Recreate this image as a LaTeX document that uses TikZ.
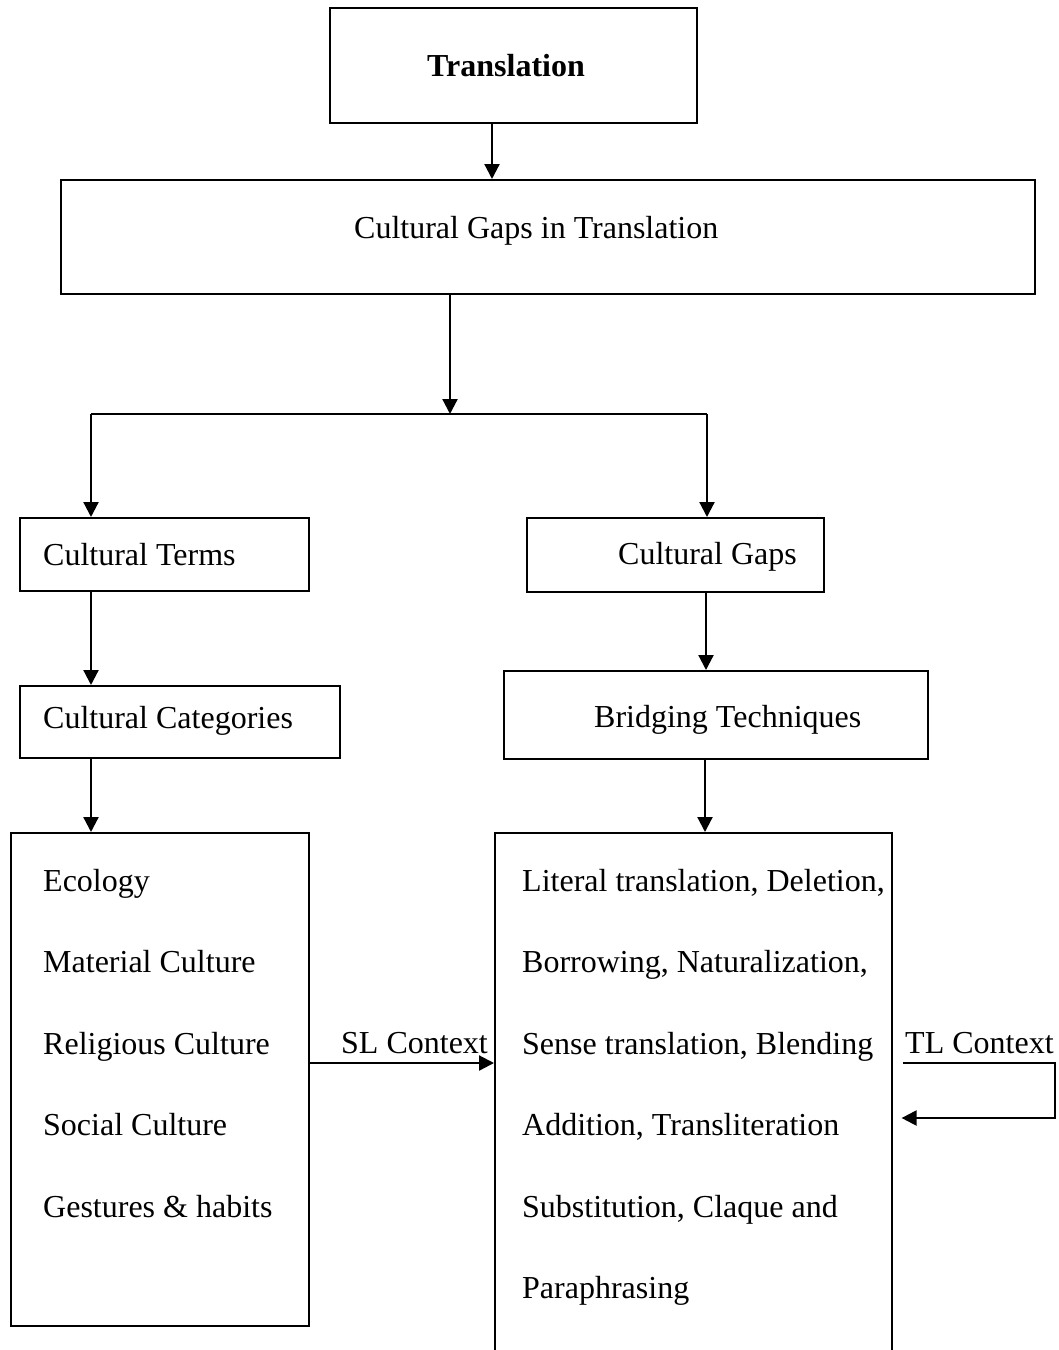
\documentclass[tikz,border=0pt]{standalone}
\usepackage{fontspec}
\setmainfont{Liberation Serif}
\usetikzlibrary{arrows.meta,calc}

\begin{document}
\begin{tikzpicture}[x=1pt,y=-1pt,
  box/.style={draw,line width=1.6pt,anchor=north west,inner sep=0pt},
  txt/.style={anchor=base west,inner sep=0pt,font=\fontsize{32}{38}\selectfont},
  title/.style={txt,font=\fontsize{32}{38}\selectfont\bfseries},
  arr/.style={line width=2.2pt,-{Triangle[length=15pt,width=15pt]}}
]
  \useasboundingbox (0,0) rectangle (1059,1350);
  \clip (0,0) rectangle (1059,1350);

  % boxes
  \node[box,minimum width=367pt,minimum height=115pt] (trans)   at (329,7)   {};
  \node[box,minimum width=974pt,minimum height=114pt] (gaps)    at (60,179)  {};
  \node[box,minimum width=289pt,minimum height=73pt]  (terms)   at (19,517)  {};
  \node[box,minimum width=297pt,minimum height=74pt]  (cgaps)   at (526,517) {};
  \node[box,minimum width=320pt,minimum height=72pt]  (cats)    at (19,685)  {};
  \node[box,minimum width=424pt,minimum height=88pt]  (bridge)  at (503,670) {};
  \node[box,minimum width=298pt,minimum height=493pt] (catlist) at (10,832)  {};
  \node[box,minimum width=397pt,minimum height=540pt] (techlist) at (494,832) {};

  % texts
  \node[title] (transtxt)  at (427,76)  {Translation};
  \node[txt]   (gapstxt)   at (354,238) {Cultural Gaps in Translation};
  \node[txt]   (termstxt)  at (43,565)  {Cultural Terms};
  \node[txt]   (cgapstxt)  at (618,564) {Cultural Gaps};
  \node[txt]   (catstxt)   at (43,728)  {Cultural Categories};
  \node[txt]   (bridgetxt) at (594,727) {Bridging Techniques};
  \foreach \entry [count=\i] in {Ecology,Material Culture,Religious Culture,Social Culture,Gestures \& habits}
    \node[txt] (cat\i) at (43,{809.5+81.5*\i}) {\entry};
  \foreach \entry [count=\i] in {{Literal translation, Deletion,},{Borrowing, Naturalization,},{Sense translation, Blending},{Addition, Transliteration},{Substitution, Claque and},{Paraphrasing}}
    \node[txt] (tech\i) at (522,{809.5+81.5*\i}) {\entry};
  \node[txt] (sltxt) at (341,1053) {SL Context};
  \node[txt] (tltxt) at (905,1053) {TL Context};

  % connectors
  \coordinate (split)  at (450,414);
  \coordinate (splitl) at (91,414);
  \coordinate (splitr) at (707,414);
  \coordinate (slrow)  at (0,1063);
  \coordinate (tlrow)  at (0,1118);
  \coordinate (tlturn) at (1055,1063);
  \draw[arr] (trans.south -| 492,0) -- (gaps.north -| 492,0);
  \draw[arr] (gaps.south -| split) -- (split);
  \draw[line width=2.2pt] (splitl) -- (splitr);
  \draw[arr] (splitl) -- (splitl |- terms.north);
  \draw[arr] (splitr) -- (splitr |- cgaps.north);
  \draw[arr] (terms.south -| 91,0) -- (cats.north -| 91,0);
  \draw[arr] (cgaps.south -| 706,0) -- (bridge.north -| 706,0);
  \draw[arr] (cats.south -| 91,0) -- (catlist.north -| 91,0);
  \draw[arr] (bridge.south -| 705,0) -- (techlist.north -| 705,0);
  \draw[arr] (catlist.east |- slrow) -- (techlist.west |- slrow);
  \draw[arr] ($(techlist.east |- slrow)+(10,0)$) -- (tlturn) -- (tlturn |- tlrow) -- ($(techlist.east |- tlrow)+(9,0)$);
\end{tikzpicture}
\end{document}
